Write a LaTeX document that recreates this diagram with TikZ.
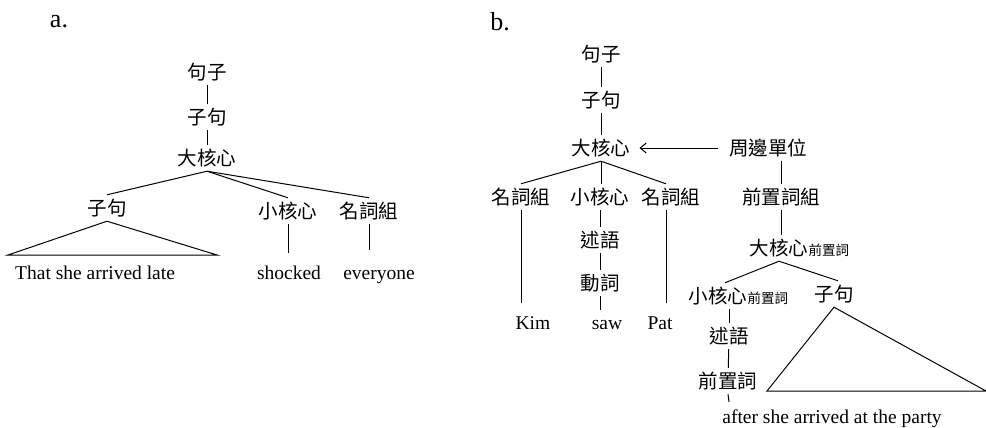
\documentclass[tikz,border=0pt]{standalone}
\usepackage{fontspec}
\setmainfont{Liberation Serif}
\newfontfamily\cjk{Noto Sans CJK TC}
\usetikzlibrary{arrows.meta,calc}
\begin{document}
\begin{tikzpicture}[x=1pt,y=-1pt,
  cj/.style={font={\cjk\fontsize{19.5}{20}\selectfont}, inner xsep=0pt, inner ysep=4pt},
  subtx/.style={font={\cjk\fontsize{13.5}{14}\selectfont}, inner sep=0pt, anchor=base west},
  leaf/.style={font={\fontsize{19.5}{20}\selectfont}, anchor=base, text height=14pt, text depth=4pt, inner xsep=0pt, inner ysep=12pt},
  lbl/.style={font={\fontsize{26}{28}\selectfont}, inner sep=0pt},
  edge/.style={line width=1pt},
]
\path[use as bounding box] (0,0) rectangle (986,428);

% ---- panel a ----
\node[lbl] (la) at (59,22) {a.};
\node[cj] (a1) at (207,72) {句子};
\node[cj] (a2) at (207,117) {子句};
\node[cj] (a3) at (207,158) {大核心};
\node[cj] (a4) at (107,208) {子句};
\node[cj] (a5) at (288,211) {小核心};
\node[cj] (a6) at (369,211) {名詞組};
\node[leaf, anchor=base west] (a7) at (15,279) {That she arrived late};
\node[leaf] (a8) at (289,279) {shocked};
\node[leaf] (a9) at (379,279) {everyone};
\coordinate (aTL) at (8,255);
\coordinate (aTR) at (217,255);

\draw[edge] (a1) -- (a2);
\draw[edge] (a2) -- (a3);
\draw[edge] (a3.south) -- (a4.north);
\draw[edge] (a3.south) -- (a5.north);
\draw[edge] (a3.south) -- (a6.north);
\draw[edge] (a4.south) -- (aTL) -- (aTR) -- cycle;
\draw[edge] (a5.south) -- (a5.south |- a8.north);
\draw[edge, shorten >=3pt] (a6.south) -- (a6.south |- a9.north);

% ---- panel b ----
\node[lbl] (lb) at (500,22) {b.};
\node[cj] (b1) at (601,54) {句子};
\node[cj] (b2) at (601,100) {子句};
\node[cj] (b3) at (601,148) {大核心};
\node[cj] (b4) at (768,148) {周邊單位};
\node[cj] (b5) at (521,197) {名詞組};
\node[cj] (b6) at (600,197) {小核心};
\node[cj] (b7) at (671,197) {名詞組};
\node[cj] (b8) at (781,197) {前置詞組};
\node[cj] (b9) at (600,240) {述語};
\node[cj] (b10) at (600,283) {動詞};
\node[leaf] (b11) at (533,329) {Kim};
\node[leaf] (b12) at (607,329) {saw};
\node[leaf] (b13) at (660,329) {Pat};
\coordinate (bS) at (600,310);
\node[cj] (b14) at (779,248) {大核心};
\node[subtx] (b14s) at (b14.base east) {前置詞};
\node[cj] (b15) at (718,296) {小核心};
\node[subtx] (b15s) at (b15.base east) {前置詞};
\node[cj] (b16) at (834,294) {子句};
\node[cj] (b17) at (729,336) {述語};
\node[cj] (b18) at (728,381) {前置詞};
\node[leaf] (b19) at (832,423) {after she arrived at the party};
\coordinate (bTL) at (767,391);
\coordinate (bTR) at (986,391);
\coordinate (bP) at (729,402);

\draw[edge] (b1) -- (b2);
\draw[edge] (b2) -- (b3);
\draw[edge, -{Straight Barb[length=6pt,width=10pt]}, shorten <=11pt, shorten >=9pt] (b4.west) -- (b3.east);
\draw[edge] (b3.south) -- (b5.north);
\draw[edge] (b3.south) -- (b3.south |- b6.north);
\draw[edge] (b3.south) -- ($(b7.north)+(-5,0)$);
\draw[edge] (b4.south -| b8.north) -- (b8.north);
\draw[edge] (b5.south) -- (b5.south |- b11.north);
\draw[edge] (b6) -- (b9);
\draw[edge] (b9) -- (b10);
\draw[edge] (b10.south) -- (bS);
\draw[edge] ($(b7.south)+(-5,0)$) -- ($(b7.south |- b13.north)+(-5,0)$);
\draw[edge] (b8.south) -- (b8.south |- b14.north);
\draw[edge] (b14.south) -- ($(b15.north)+(7,0)$);
\draw[edge] (b14.south) -- ($(b16.north)+(4,0)$);
\draw[edge] (b15.south -| b17.north) -- (b17.north);
\draw[edge] (b17) -- (b18);
\draw[edge] (b18.south) -- (bP);
\draw[edge] (b16.south) -- (bTL) -- (bTR) -- cycle;
\end{tikzpicture}
\end{document}
